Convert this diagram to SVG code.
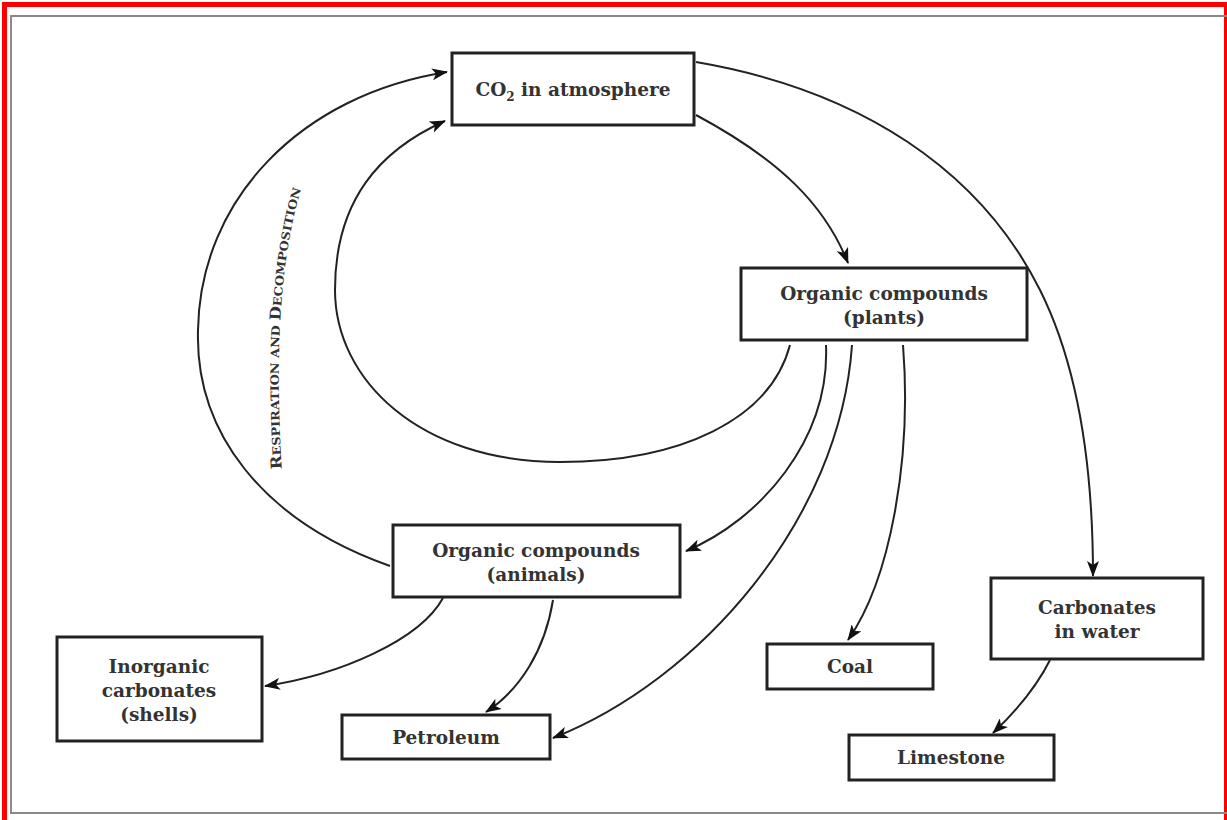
<svg xmlns="http://www.w3.org/2000/svg" width="1227" height="820" viewBox="0 0 1227 820">
<defs>
<marker id="ah" viewBox="0 0 16 12" refX="15" refY="6" markerWidth="16" markerHeight="12" markerUnits="userSpaceOnUse" orient="auto">
<path d="M0,0 L16,6 L0,12 L4,6 Z" fill="#111"/>
</marker>
<path id="lblpath" d="M 282 472 C 276 380 276 270 302 186"/>
</defs>
<style>
.box{fill:#fff;stroke:#222;stroke-width:3}
.t{font-family:"DejaVu Serif","Liberation Serif",serif;font-size:18.5px;fill:#333;text-anchor:middle;font-weight:bold}
.c{fill:none;stroke:#222;stroke-width:2;marker-end:url(#ah)}
.lbl{font-family:"DejaVu Serif","Liberation Serif",serif;fill:#333;font-weight:bold}
</style>
<rect x="0" y="0" width="1227" height="820" fill="#fff"/>
<rect x="4.5" y="4.5" width="1222" height="830" fill="none" stroke="#f00" stroke-width="5"/>
<rect x="11" y="16" width="1230" height="797" fill="none" stroke="#8a8a8a" stroke-width="2"/>

<g id="connectors">
<path class="c" d="M 390 566 C 260 520 195 430 198 330 C 200 200 300 95 447 72"/>
<path class="c" d="M 790 345 C 770 420 680 462 560 462 C 420 462 335 380 335 290 C 335 200 380 150 445 121"/>
<path class="c" d="M 696 115 C 780 160 825 205 848 263"/>
<path class="c" d="M 696 62 C 860 90 980 170 1040 290 C 1080 370 1093 470 1093 576"/>
<path class="c" d="M 826 345 C 830 440 760 520 686 551"/>
<path class="c" d="M 852 345 C 840 520 700 680 553 738"/>
<path class="c" d="M 903 345 C 912 460 890 580 848 640"/>
<path class="c" d="M 443 598 C 420 640 340 675 265 686"/>
<path class="c" d="M 553 600 C 545 650 520 690 486 712"/>
<path class="c" d="M 1050 660 C 1035 690 1012 715 993 733"/>
</g>

<g id="label">
<text class="lbl"><textPath href="#lblpath" startOffset="50%" text-anchor="middle" textLength="282" lengthAdjust="spacingAndGlyphs"><tspan font-size="15">R</tspan><tspan font-size="11.5">ESPIRATION AND </tspan><tspan font-size="15">D</tspan><tspan font-size="11.5">ECOMPOSITION</tspan></textPath></text>
</g>

<g id="co2">
<rect class="box" x="452" y="53" width="242" height="72"/>
<text class="t" x="573" y="96">CO<tspan font-size="12" dy="5">2</tspan><tspan dy="-5"> in atmosphere</tspan></text>
</g>
<g id="plants">
<rect class="box" x="741" y="268" width="286" height="72"/>
<text class="t" x="884" y="300">Organic compounds</text>
<text class="t" x="884" y="324">(plants)</text>
</g>
<g id="animals">
<rect class="box" x="393" y="525" width="287" height="72"/>
<text class="t" x="536" y="557">Organic compounds</text>
<text class="t" x="536" y="581">(animals)</text>
</g>
<g id="shells">
<rect class="box" x="57" y="637" width="205" height="104"/>
<text class="t" x="159" y="673">Inorganic</text>
<text class="t" x="159" y="697">carbonates</text>
<text class="t" x="159" y="721">(shells)</text>
</g>
<g id="petroleum">
<rect class="box" x="342" y="715" width="208" height="44"/>
<text class="t" x="446" y="744">Petroleum</text>
</g>
<g id="coal">
<rect class="box" x="767" y="644" width="166" height="45"/>
<text class="t" x="850" y="673">Coal</text>
</g>
<g id="water">
<rect class="box" x="991" y="578" width="212" height="81"/>
<text class="t" x="1097" y="614">Carbonates</text>
<text class="t" x="1097" y="638">in water</text>
</g>
<g id="limestone">
<rect class="box" x="849" y="735" width="205" height="45"/>
<text class="t" x="951" y="764">Limestone</text>
</g>
</svg>
